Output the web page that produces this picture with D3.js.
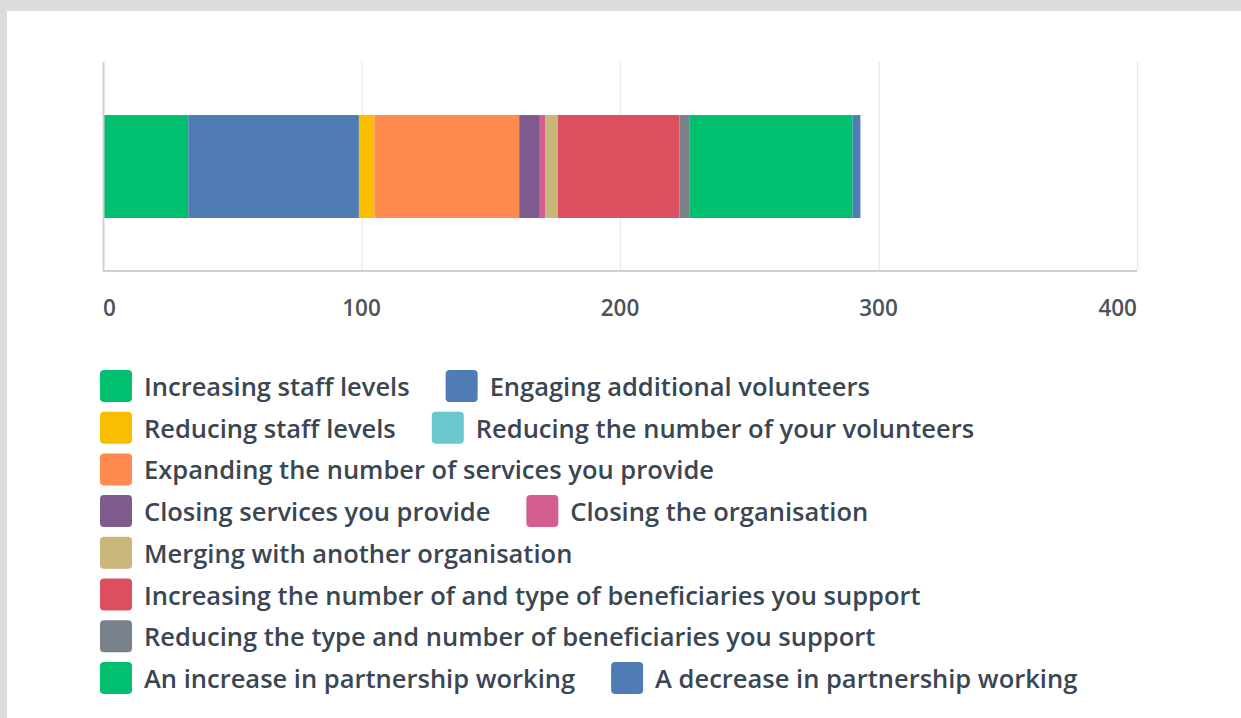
<!DOCTYPE html>
<html>
<head>
<meta charset="utf-8">
<script src="https://cdn.jsdelivr.net/npm/d3@7"></script>
<style>
  html, body { margin: 0; padding: 0; background: #dcdcdc; }
  #chart { position: absolute; left: 7px; top: 11px; width: 1234px; height: 707px; background: #fff; }
</style>
</head>
<body>
<div id="chart"></div>
<script>
(function() {
  // answers, in the order they are stacked
  var categories = [
    "Increasing staff levels",
    "Engaging additional volunteers",
    "Reducing staff levels",
    "Reducing the number of your volunteers",
    "Expanding the number of services you provide",
    "Closing services you provide",
    "Closing the organisation",
    "Merging with another organisation",
    "Increasing the number of and type of beneficiaries you support",
    "Reducing the type and number of beneficiaries you support",
    "An increase in partnership working",
    "A decrease in partnership working"
  ];
  var values = [33, 66, 6, 0, 56, 8, 2, 5, 47, 4, 63, 3];
  var colors = ["#00bf6f", "#507cb6", "#f9be00", "#6bc8cd", "#ff8b4f", "#7f5a8f",
                "#d25f90", "#c9b77a", "#dc4f5f", "#79818a", "#00bf6f", "#507cb6"];
  var tickValues = [0, 100, 200, 300, 400];

  var margin = { top: 51, left: 96, right: 104, bottom: 447 },
      width = 1234 - margin.left - margin.right,
      height = 707 - margin.top - margin.bottom;

  var svg = d3.select("#chart")
    .append("svg")
    .attr("width", 1234)
    .attr("height", 707)
    .append("g")
    .attr("transform", "translate(" + margin.left + "," + margin.top + ")");

  var x = d3.scaleLinear().domain([0, 400]).range([0, width]);
  var y = d3.scaleBand().domain(["row"]).range([0, height]).padding(0.34);

  // stack the single row
  var stacked = [];
  var cum = 0;
  values.forEach(function(v, i) {
    stacked.push({ name: categories[i], x0: cum, x1: cum + v, color: colors[i] });
    cum += v;
  });

  // grid lines
  svg.append("g")
    .selectAll("line")
    .data(tickValues.slice(1))
    .enter().append("line")
    .attr("x1", function(d) { return x(d) + 0.5; })
    .attr("x2", function(d) { return x(d) + 0.5; })
    .attr("y1", 0)
    .attr("y2", height)
    .attr("stroke", "#ebebeb")
    .attr("stroke-width", 1.5);

  svg.append("g")
    .selectAll("rect")
    .data(stacked.filter(function(d) { return d.x1 > d.x0; }))
    .enter().append("rect")
    .attr("x", function(d) { return x(d.x0); })
    .attr("width", function(d) { return x(d.x1) - x(d.x0); })
    .attr("y", y("row"))
    .attr("height", y.bandwidth())
    .attr("fill", function(d) { return d.color; });

  // left and bottom axis lines
  svg.append("line")
    .attr("x1", 0.5).attr("x2", 0.5).attr("y1", 0).attr("y2", height)
    .attr("stroke", "#d0d0d0").attr("stroke-width", 2);
  svg.append("line")
    .attr("x1", 0).attr("x2", width).attr("y1", height).attr("y2", height)
    .attr("stroke", "#d0d0d0").attr("stroke-width", 2);

  // tick labels: first start-anchored, last end-anchored
  svg.append("g")
    .selectAll("text")
    .data(tickValues)
    .enter().append("text")
    .attr("x", function(d) { return x(d); })
    .attr("y", height + 45)
    .attr("text-anchor", function(d, i) {
      return i === 0 ? "start" : (i === tickValues.length - 1 ? "end" : "middle");
    })
    .style("font-family", "Open Sans")
    .style("font-size", "22.5px")
    .style("font-weight", 600)
    .style("fill", "#4b535c")
    .text(function(d) { return d; });

  // legend, wrapped like a flow layout
  var legend = svg.append("g").attr("transform", "translate(-3," + (height + 99) + ")");
  var lx = 0, row = 0, rowH = 41.7, maxW = 1000;
  categories.forEach(function(name, i) {
    var g = legend.append("g");
    g.append("rect")
      .attr("width", 32).attr("height", 32)
      .attr("rx", 4)
      .attr("fill", colors[i]);
    var t = g.append("text")
      .attr("x", 44)
      .attr("y", 26)
      .style("font-family", "Open Sans")
      .style("font-size", "25.5px")
      .style("font-weight", 600)
      .style("fill", "#3b4653")
      .text(name);
    var w = 44 + t.node().getComputedTextLength();
    if (lx > 0 && lx + w > maxW) { lx = 0; row += 1; }
    g.attr("transform", "translate(" + lx + "," + (row * rowH) + ")");
    lx += w + 36;
  });
})();
</script>
</body>
</html>
